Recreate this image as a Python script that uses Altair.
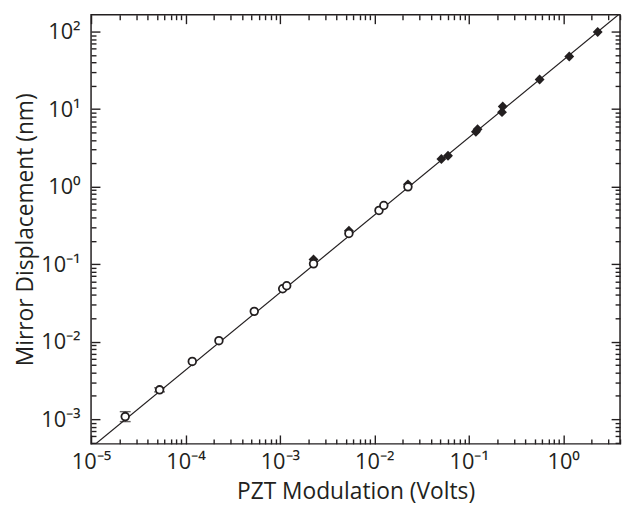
import math
import altair as alt
import pandas as pd

# ---- data ----
circle_x = [2.30e-5, 5.32e-5, 1.18e-4, 2.26e-4, 5.35e-4, 1.07e-3, 1.18e-3,
            2.27e-3, 5.38e-3, 1.12e-2, 1.26e-2, 2.27e-2]
circle_y = [1.08e-3, 2.39e-3, 5.56e-3, 1.03e-2, 2.46e-2, 4.82e-2, 5.26e-2,
            1.01e-1, 0.249, 0.493, 0.571, 0.994]
err_x = [2.30e-5, 5.32e-5]
err_lo = [0.93e-3, 2.25e-3]
err_hi = [1.25e-3, 2.54e-3]
diamond_x = [2.27e-3, 5.38e-3, 2.27e-2, 5.13e-2, 6.03e-2, 0.119, 0.124,
             0.225, 0.229, 0.563, 1.16, 2.32]
diamond_y = [0.115, 0.27, 1.07, 2.27, 2.50, 5.1, 5.5, 9.14, 10.8, 24.1, 47.7, 98.8]
fit_x = [1e-5, 4.0]
fit_y = [4.29e-4, 171.6]

x_major = [1e-5, 1e-4, 1e-3, 1e-2, 1e-1, 1e0]
y_major = [1e-3, 1e-2, 1e-1, 1e0, 1e1, 1e2]
x_domain = [1e-5, 4.0]
y_domain = [4.8e-4, 165.0]

x_minor = [m * 10.0 ** k for k in range(-5, 1) for m in range(2, 10)
           if m * 10.0 ** k <= x_domain[1]]
y_minor = [m * 10.0 ** k for k in range(-4, 3) for m in range(2, 10)
           if y_domain[0] <= m * 10.0 ** k <= y_domain[1]]

SUP = {"-": "\u207b", "0": "\u2070", "1": "\u00b9", "2": "\u00b2", "3": "\u00b3",
       "4": "\u2074", "5": "\u2075", "6": "\u2076", "7": "\u2077", "8": "\u2078", "9": "\u2079"}


def sup(n):
    return "".join(SUP[c] for c in str(n))


def label_expr(exps):
    parts = [f"round(log(datum.value)/LN10) == {e} ? '10{sup(e)}'" for e in exps]
    return " : ".join(parts) + " : ''"


INK = "#231f20"
FONT = "Open Sans"

fit_df = pd.DataFrame({"x": fit_x, "y": fit_y})
circ_df = pd.DataFrame({"x": circle_x, "y": circle_y})
dia_df = pd.DataFrame({"x": diamond_x, "y": diamond_y})
err_df = pd.DataFrame({"x": err_x, "lo": err_lo, "hi": err_hi})
frame_df = pd.DataFrame({"x": [x_domain[0]], "x2": [x_domain[1]],
                         "y": [y_domain[0]], "y2": [y_domain[1]]})

xs = alt.Scale(type="log", domain=x_domain, nice=False)
ys = alt.Scale(type="log", domain=y_domain, nice=False)


def tick_axis(orient, values, size):
    return alt.Axis(orient=orient, values=values, tickSize=size, offset=-size,
                    labels=False, domain=False, grid=False, title=None,
                    tickColor=INK, tickWidth=1.4)


x_lab = alt.Axis(orient="bottom", values=x_major, labelExpr=label_expr(range(-5, 1)),
                 ticks=False, domain=False, grid=False, title="PZT Modulation (Volts)",
                 labelFontSize=22, labelPadding=8, titleFontSize=23, titlePadding=8,
                 labelColor=INK, titleColor=INK, labelFont=FONT, titleFont=FONT,
                 titleFontWeight="normal", labelFlush=False)
y_lab = alt.Axis(orient="left", values=y_major, labelExpr=label_expr(range(-3, 3)),
                 ticks=False, domain=False, grid=False, title="Mirror Displacement (nm)",
                 labelFontSize=22, labelPadding=11, titleFontSize=23, titlePadding=3,
                 labelColor=INK, titleColor=INK, labelFont=FONT, titleFont=FONT,
                 titleFontWeight="normal", labelFlush=False)

frame = alt.Chart(frame_df).mark_rect(fillOpacity=0, stroke=INK, strokeWidth=1.5).encode(
    x=alt.X("x:Q", scale=xs, axis=None),
    x2="x2:Q",
    y=alt.Y("y:Q", scale=ys, axis=None),
    y2="y2:Q",
)

line = alt.Chart(fit_df).mark_line(color=INK, strokeWidth=1.2, clip=True).encode(
    x=alt.X("x:Q", scale=xs, axis=x_lab),
    y=alt.Y("y:Q", scale=ys, axis=y_lab),
)

diamonds = alt.Chart(dia_df).mark_point(shape="diamond", filled=True, color=INK,
                                        size=100, opacity=1).encode(
    x=alt.X("x:Q", scale=xs, axis=tick_axis("bottom", x_major, 9)),
    y=alt.Y("y:Q", scale=ys, axis=tick_axis("left", y_major, 9)),
)

rules = alt.Chart(err_df).mark_rule(color=INK, strokeWidth=1.4).encode(
    x=alt.X("x:Q", scale=xs, axis=tick_axis("bottom", x_minor, 5)),
    y=alt.Y("lo:Q", scale=ys, axis=tick_axis("left", y_minor, 5)),
    y2="hi:Q",
)

caps_lo = alt.Chart(err_df).mark_tick(color=INK, thickness=1.4, size=11,
                                      orient="horizontal").encode(
    x=alt.X("x:Q", scale=xs, axis=tick_axis("top", x_major, 9)),
    y=alt.Y("lo:Q", scale=ys, axis=tick_axis("right", y_major, 9)),
)

caps_hi = alt.Chart(err_df).mark_tick(color=INK, thickness=1.4, size=11,
                                      orient="horizontal").encode(
    x=alt.X("x:Q", scale=xs, axis=None),
    y=alt.Y("hi:Q", scale=ys, axis=None),
)

circles = alt.Chart(circ_df).mark_point(shape="circle", filled=False, fill="white",
                                        stroke=INK, strokeWidth=1.8, size=60,
                                        opacity=1, fillOpacity=1).encode(
    x=alt.X("x:Q", scale=xs, axis=tick_axis("top", x_minor, 5)),
    y=alt.Y("y:Q", scale=ys, axis=tick_axis("right", y_minor, 5)),
)

chart = alt.layer(frame, line, diamonds, rules, caps_lo, caps_hi, circles).resolve_axis(
    x="independent", y="independent"
).properties(
    width=535, height=434,
    background="white",
    autosize=alt.AutoSizeParams(type="none"),
    padding={"left": 84, "top": 4, "right": 3, "bottom": 60},
).configure_view(stroke=None)

chart.save("out.html", embed_options={"renderer": "svg", "actions": False})
